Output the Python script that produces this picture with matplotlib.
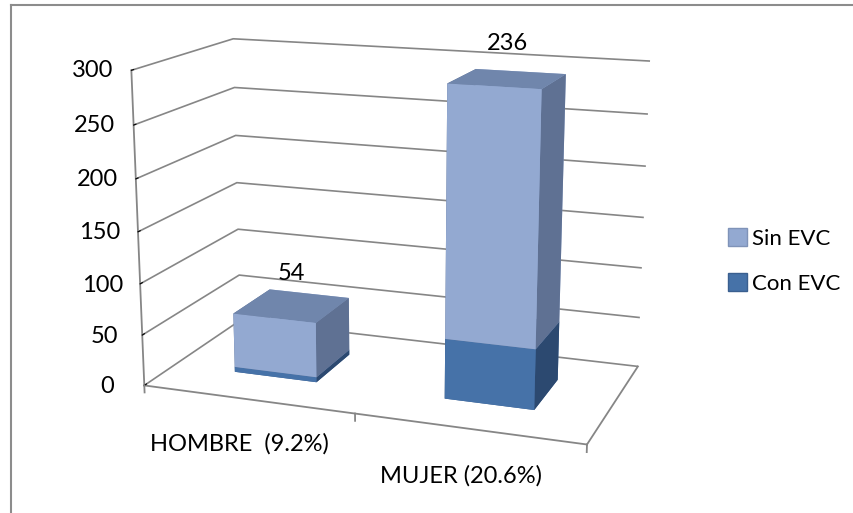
import matplotlib
matplotlib.use("Agg")
import matplotlib.pyplot as plt
import numpy as np
from matplotlib.patches import Patch
from matplotlib.lines import Line2D

plt.rcParams['font.family'] = ['Lato', 'DejaVu Sans']

categories = ["HOMBRE  (9.2%)", "MUJER (20.6%)"]
series_names = ["Sin EVC", "Con EVC"]
con_evc = [5, 58]
sin_evc = [54, 236]
z_ticks = [0, 50, 100, 150, 200, 250, 300]

FS = 17
GRID = '#868686'
sin_cols = dict(front='#93A9D1', side='#5F7193', top='#7086AC')
con_cols = dict(front='#4672A8', side='#2C4970', top='#3C5F8E')

W, H = 854, 513
fig = plt.figure(figsize=(W / 100, H / 100), dpi=100)
ax = fig.add_axes([-38.75 / W, 25.05 / H, 1, 1], projection='3d')
ax.set_proj_type('persp', focal_length=0.5888)
ax.view_init(elev=14.6, azim=-70.04)
ax.set_box_aspect((1, 0.4963, 0.7027), zoom=1.1379)

ax.set_xlim(0, 2)
ax.set_ylim(0, 1)
ax.set_zlim(0, 300)

for axis in (ax.xaxis, ax.yaxis, ax.zaxis):
    axis.set_pane_color((1, 1, 1, 0))
    axis.pane.set_edgecolor('none')
    axis.line.set_color(GRID)
    axis.line.set_linewidth(1.3)
    axis.offsetText.set_visible(False)
    axis.label.set_visible(False)
for ttl in (ax.title, ax._left_title, ax._right_title):
    ttl.set_visible(False)
ax.xaxis._axinfo['grid'].update(color=(1, 1, 1, 0), linewidth=0)
ax.yaxis._axinfo['grid'].update(color=(1, 1, 1, 0), linewidth=0)
ax.zaxis._axinfo['grid'].update(color=GRID, linewidth=1.2)
ax.zaxis._axinfo['tick'].update(inward_factor=0.0, outward_factor=0.25)
ax.zaxis._axinfo['tick']['color'] = GRID
ax.xaxis._axinfo['tick'].update(inward_factor=0.0, outward_factor=0.0)
ax.zaxis.set_ticks_position('lower')
ax.zaxis.set_label_position('lower')

ax.set_zticks(z_ticks)
ax.set_zticklabels([str(t) for t in z_ticks], fontsize=FS)
ax.set_yticks([])
xc = np.arange(len(categories)) + 0.5
ax.set_xticks(xc)
ax.set_xticklabels(categories, fontsize=FS)
ax.tick_params(axis='z', pad=6)
ax.tick_params(axis='x', pad=9)
for t in ax.zaxis.get_majorticklabels():
    t.set_verticalalignment('center')

bw, bd = 0.4, 0.4
y0 = 0.5 - bd / 2
for i, c in enumerate(xc):
    x0 = c - bw / 2
    for base, h, cols in ((0, con_evc[i], con_cols), (con_evc[i], sin_evc[i], sin_cols)):
        fc = [cols['top'], cols['top'], cols['front'], cols['front'], cols['side'], cols['side']]
        ax.bar3d(x0, y0, base, bw, bd, h, color=fc, shade=False, edgecolor='none')
    ax.text(c, 0.5, con_evc[i] + sin_evc[i] + 22, str(sin_evc[i]), ha='center', va='bottom', fontsize=FS)

# category boundary tick marks on the front floor edge
for xb in [0, 1, 2]:
    ax.plot([xb, xb], [0, 0], [0, -7], color=GRID, lw=1.3)

handles = [Patch(facecolor=sin_cols['front'], edgecolor='#7f93b8'),
           Patch(facecolor=con_cols['front'], edgecolor='#3a5f8f')]
fig.legend(handles, series_names, loc='center left', bbox_to_anchor=(0.829, 0.491),
           frameon=False, fontsize=FS - 1, handlelength=0.85, handleheight=0.85,
           handletextpad=0.25, labelspacing=1.1)

fig.add_artist(Line2D([11 / W, 1], [1 - 5 / H, 1 - 5 / H], color='#8c8c8c', lw=1.5))
fig.add_artist(Line2D([11 / W, 11 / W], [0, 1 - 5 / H], color='#8c8c8c', lw=1.5))

fig.savefig('out.png', dpi=100)
